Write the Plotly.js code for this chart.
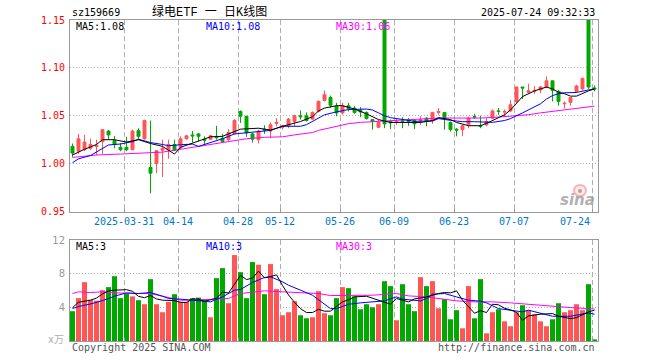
<!DOCTYPE html>
<html>
<head>
<meta charset="utf-8">
<script src="https://cdn.plot.ly/plotly-3.0.1.min.js"></script>
<style>html,body{margin:0;padding:0;background:#fff;}#chart{width:660px;height:360px;}</style>
</head>
<body>
<div id="chart"></div>
<script>
// Trading dates (index 0..87)
var dates = ["03-18","03-19","03-20","03-21","03-24","03-25","03-26","03-27","03-28","03-31",
"04-01","04-02","04-03","04-07","04-08","04-09","04-10","04-11","04-14","04-15",
"04-16","04-17","04-18","04-21","04-22","04-23","04-24","04-25","04-28","04-29",
"04-30","05-06","05-07","05-08","05-09","05-12","05-13","05-14","05-15","05-16",
"05-19","05-20","05-21","05-22","05-23","05-26","05-27","05-28","05-29","05-30",
"06-03","06-04","06-05","06-06","06-09","06-10","06-11","06-12","06-13","06-16",
"06-17","06-18","06-19","06-20","06-23","06-24","06-25","06-26","06-27","06-30",
"07-01","07-02","07-03","07-04","07-07","07-08","07-09","07-10","07-11","07-14",
"07-15","07-16","07-17","07-18","07-21","07-22","07-23","07-24"];

var openP = [1.018,1.013,1.0145,1.016,1.018,1.023,1.034,1.024,1.017,1.017,
1.0145,1.0345,1.026,0.996,1.000,1.014,1.0145,1.020,1.017,1.026,
1.030,1.031,1.0255,1.0255,1.0285,1.0265,1.025,1.031,1.0545,1.0495,
1.031,1.025,1.036,1.034,1.042,1.038,1.0395,1.044,1.050,1.050,
1.0465,1.0545,1.066,1.069,1.060,1.053,1.0605,1.058,1.0555,1.0535,
1.046,1.038,1.160,1.044,1.043,1.045,1.046,1.045,1.045,1.0475,
1.045,1.0535,1.0535,1.043,1.036,1.0355,1.0405,1.049,1.0395,1.0405,
1.0475,1.055,1.0538,1.055,1.065,1.080,1.0745,1.0755,1.077,1.080,
1.0865,1.0755,1.0625,1.064,1.0755,1.078,1.160,1.079];
var highP = [1.021,1.031,1.030,1.026,1.025,1.0355,1.035,1.029,1.0215,1.028,
1.0355,1.037,1.046,1.045,1.014,1.025,1.025,1.025,1.0285,1.030,
1.034,1.032,1.0285,1.030,1.0395,1.031,1.036,1.0465,1.0555,1.0495,
1.032,1.0355,1.040,1.043,1.0475,1.0405,1.0475,1.051,1.0555,1.0535,
1.0545,1.066,1.0765,1.071,1.0635,1.0635,1.0635,1.060,1.059,1.0545,
1.0465,1.046,1.160,1.046,1.0465,1.0485,1.0475,1.0465,1.0495,1.0485,
1.0535,1.058,1.0535,1.044,1.037,1.0405,1.049,1.052,1.050,1.0475,
1.0565,1.058,1.0565,1.0665,1.0805,1.080,1.0835,1.081,1.081,1.091,
1.0865,1.077,1.065,1.069,1.0825,1.090,1.160,1.0815];
var lowP = [1.007,1.010,1.013,1.0145,1.009,1.010,1.025,1.016,1.013,1.013,
1.014,1.025,1.025,0.969,0.990,0.986,1.005,1.013,1.015,1.025,
1.022,1.023,1.020,1.025,1.025,1.0215,1.024,1.031,1.0425,1.028,
1.022,1.021,1.031,1.0265,1.039,1.0355,1.037,1.039,1.046,1.044,
1.046,1.0535,1.065,1.058,1.0495,1.051,1.0545,1.052,1.0485,1.046,
1.0355,1.037,1.037,1.036,1.0405,1.037,1.0395,1.036,1.0405,1.039,
1.0415,1.051,1.0355,1.0335,1.0285,1.029,1.037,1.0465,1.037,1.039,
1.0465,1.051,1.049,1.0545,1.063,1.0675,1.0735,1.073,1.0735,1.079,
1.065,1.0605,1.0575,1.0605,1.0745,1.0765,1.078,1.0755];
var closeP = [1.011,1.026,1.0225,1.020,1.019,1.0355,1.030,1.020,1.0145,1.0145,
1.034,1.0285,1.045,0.990,1.0135,1.016,1.020,1.014,1.026,1.029,
1.029,1.0285,1.0245,1.029,1.027,1.023,1.0325,1.045,1.0495,1.032,
1.0255,1.034,1.035,1.0405,1.043,1.0395,1.0465,1.050,1.049,1.045,
1.0535,1.065,1.072,1.061,1.053,1.0605,1.0575,1.0535,1.054,1.047,
1.044,1.043,1.0415,1.0425,1.044,1.044,1.044,1.0415,1.046,1.044,
1.0535,1.0545,1.0477,1.0355,1.035,1.0395,1.0475,1.0485,1.039,1.044,
1.055,1.0545,1.0545,1.0615,1.080,1.079,1.076,1.0765,1.080,1.0865,
1.0765,1.065,1.063,1.069,1.081,1.089,1.080,1.078];

// Volume (x 10k)
var volume = [3.54,5.09,6.99,4.9,4.8,6.04,6.4,7.7,5.09,5.6,
5.3,4.85,4.37,7.35,4.37,3.42,4.65,5.56,4.65,4.65,
5.09,5.16,4.93,2.82,7.47,8.66,4.49,10.21,8.18,5.09,
9.38,9.06,5.56,9.14,6.16,3.06,3.42,4.73,3.06,2.70,
2.82,5.92,3.30,3.06,5.09,6.40,6.28,5.32,3.77,4.37,
4.01,4.37,7.11,6.52,2.46,6.75,4.37,3.54,7.59,6.52,
7.11,3.89,4.97,2.58,3.66,1.51,6.52,2.70,7.35,0.91,
3.42,3.77,2.34,1.75,3.42,4.25,3.66,3.18,2.34,1.75,
2.58,4.49,3.42,3.66,4.37,3.66,6.75,0.2];

// Price moving averages (index, value)
var ma5Idx = [0,2,4,5,7,9,11,13,15,17,18,20,23,25,27,28,31,33,35,37,38,40,41,42,44,45,47,49,51,53,58,60,61,63,64,66,68,69,70,71,72,73,74,75,77,79,80,81,82,83,84,85,86,87];
var ma5Val = [1.009,1.015,1.020,1.025,1.025,1.0225,1.025,1.021,1.018,1.010,1.017,1.0215,1.028,1.0285,1.034,1.036,1.037,1.035,1.039,1.042,1.044,1.049,1.055,1.058,1.0605,1.0605,1.057,1.052,1.046,1.043,1.043,1.045,1.048,1.046,1.043,1.0396,1.0396,1.042,1.045,1.0476,1.051,1.056,1.063,1.070,1.076,1.080,1.078,1.0745,1.073,1.0705,1.0705,1.0735,1.076,1.078];
var ma10Idx = [0,1,3,5,6,8,10,11,13,15,16,18,20,21,23,25,27,29,31,33,35,38,39,40,41,42,44,46,49,50,51,52,53,55,57,60,61,63,65,67,70,72,73,75,76,78,79,80,81,82,84,85,86,87];
var ma10Val = [1.001,1.005,1.0085,1.016,1.0195,1.0205,1.023,1.0255,1.022,1.020,1.0187,1.0197,1.0204,1.018,1.022,1.026,1.031,1.032,1.0335,1.0347,1.039,1.039,1.0407,1.044,1.048,1.051,1.054,1.0565,1.057,1.056,1.053,1.050,1.048,1.0462,1.0442,1.0445,1.047,1.0452,1.0438,1.0438,1.0431,1.045,1.047,1.053,1.056,1.0625,1.0675,1.071,1.073,1.074,1.0743,1.076,1.077,1.078];
var ma30Idx = [0,4,8,12,15,17,19,22,24,26,29,32,35,37,40,41,43,45,46,48,50,52,55,58,61,65,68,71,74,76,78,80,82,85,87];
var ma30Val = [1.0065,1.009,1.010,1.011,1.012,1.014,1.016,1.019,1.021,1.023,1.026,1.0275,1.028,1.030,1.0325,1.0347,1.0375,1.040,1.0417,1.0431,1.0438,1.045,1.046,1.0466,1.0476,1.0476,1.0476,1.0486,1.050,1.0511,1.053,1.0545,1.056,1.0585,1.060];

// Volume moving averages (index, value)
var vma5Idx = [0,1,3,4,5,6,7,9,10,11,12,13,14,15,17,18,19,20,21,22,23,24,25,26,27,28,29,30,31,32,33,34,35,36,37,38,39,40,41,42,43,44,45,46,47,49,51,53,54,56,57,59,61,62,63,64,65,66,67,68,69,70,71,72,73,74,75,76,78,80,81,83,84,86,87];
var vma5Val = [3.97,4.6,4.85,5.1,5.6,5.95,6.04,6.1,5.9,5.3,5.15,5.4,5.0,4.85,4.8,4.6,4.57,5.0,4.97,4.7,4.9,5.1,5.8,5.7,6.75,7.8,7.3,7.47,8.3,7.5,7.65,7.86,6.6,5.47,4.6,3.85,3.38,3.38,3.77,3.54,3.55,4.1,4.65,4.9,5.24,5.32,4.85,4.37,5.05,4.65,5.0,5.24,5.64,5.76,5.72,5.96,4.85,4.1,3.3,3.6,3.38,4.37,4.3,3.9,3.7,3.4,2.46,2.98,3.18,3.26,2.94,2.66,2.78,3.46,3.66];
var vma10Idx = [0,1,3,5,7,9,11,13,15,16,18,20,22,23,25,27,28,29,30,32,33,35,36,38,40,41,42,43,44,46,48,50,52,54,55,58,59,60,62,64,66,68,69,71,73,75,76,78,80,83,85,86,87];
var vma10Val = [3.85,4.1,4.4,4.8,5.32,5.72,5.64,5.76,5.32,5.05,4.97,4.85,4.77,4.65,5.24,6.04,6.12,6.52,6.95,7.55,7.63,7.03,6.63,6.04,5.44,4.9,4.4,3.85,3.85,4.37,4.53,4.65,4.77,5.24,4.97,4.77,5.05,5.56,5.64,5.24,4.85,4.73,4.53,3.85,3.66,3.46,3.66,3.34,2.94,2.94,3.26,3.34,3.18];
var vma30Idx = [0,1,3,5,6,10,13,16,18,20,22,26,28,30,32,35,38,41,43,47,50,54,56,59,61,64,67,70,73,76,79,83,86,87];
var vma30Val = [5.64,5.84,5.76,5.84,5.76,5.64,5.64,5.13,4.85,4.85,4.93,5.05,5.64,5.84,5.96,5.84,5.72,5.64,5.4,5.44,5.44,5.64,5.36,5.24,5.05,4.77,4.65,4.65,4.53,4.37,4.13,3.97,3.85,3.8];

// Labelled x ticks
var tickIdx = [9,18,28,35,45,54,64,74,87];
var tickText = ["2025-03-31","04-14","04-28","05-12","05-26","06-09","06-23","07-07","07-24"];
var priceTicks = [0.95,1.00,1.05,1.10,1.15];
var volTicks = [4,8,12];

var RED = '#ff5555', GREEN = '#00a800';
var xIdx = dates.map(function(d,i){return i;});
var volColors = closeP.map(function(c,i){return c >= openP[i] ? RED : GREEN;});
var gridPos = tickIdx.map(function(i){return i - 0.37;});
var MONO = 'DejaVu Sans Mono, Liberation Mono, monospace';

var traces = [
  {type:'candlestick', x:xIdx, open:openP, high:highP, low:lowP, close:closeP,
   xaxis:'x', yaxis:'y', text:dates, hoverinfo:'none',
   increasing:{line:{color:RED,width:1}, fillcolor:RED},
   decreasing:{line:{color:GREEN,width:1}, fillcolor:GREEN}, whiskerwidth:0},
  {type:'scatter', mode:'lines', x:ma30Idx, y:ma30Val, xaxis:'x', yaxis:'y', line:{color:'#ff00ff',width:1}, hoverinfo:'none'},
  {type:'scatter', mode:'lines', x:ma10Idx, y:ma10Val, xaxis:'x', yaxis:'y', line:{color:'#0000ff',width:1}, hoverinfo:'none'},
  {type:'scatter', mode:'lines', x:ma5Idx, y:ma5Val, xaxis:'x', yaxis:'y', line:{color:'#000000',width:1}, hoverinfo:'none'},
  {type:'bar', x:xIdx, y:volume, xaxis:'x2', yaxis:'y2', marker:{color:volColors, line:{width:0}}, hoverinfo:'none'},
  {type:'scatter', mode:'lines', x:vma30Idx, y:vma30Val, xaxis:'x2', yaxis:'y2', line:{color:'#ff00ff',width:1}, hoverinfo:'none'},
  {type:'scatter', mode:'lines', x:vma10Idx, y:vma10Val, xaxis:'x2', yaxis:'y2', line:{color:'#0000ff',width:1}, hoverinfo:'none'},
  {type:'scatter', mode:'lines', x:vma5Idx, y:vma5Val, xaxis:'x2', yaxis:'y2', line:{color:'#000000',width:1}, hoverinfo:'none'}
];

function xAxisBase(anchor){
  return {anchor:anchor, domain:[0,1], range:[-0.4167,87.5833], tickmode:'array', tickvals:gridPos,
    showticklabels:false, ticks:'inside', ticklen:3, tickcolor:'#999', tickwidth:1,
    showgrid:true, gridcolor:'#b0b0b0', gridwidth:1, griddash:'5px,3px',
    showline:true, linecolor:'#999', linewidth:1, mirror:true, zeroline:false,
    rangeslider:{visible:false}, fixedrange:true};
}

var PX = function(px){return (px-70)/528;};
var PY = function(py){return (341-py)/321;};

var annotations = [
  {text:'sz159669', xref:'paper', yref:'paper', x:PX(70), y:PY(12.5), xanchor:'left', yanchor:'middle', showarrow:false, font:{family:MONO, size:10, color:'#000'}},
  {text:'绿电ETF 一 日K线图', xref:'paper', yref:'paper', x:PX(209), y:PY(12.5), xanchor:'center', yanchor:'middle', showarrow:false, font:{family:'Liberation Mono, Noto Sans CJK SC', size:12, color:'#000'}},
  {text:'2025-07-24 09:32:33', xref:'paper', yref:'paper', x:PX(597), y:PY(12.5), xanchor:'right', yanchor:'middle', showarrow:false, font:{family:MONO, size:10, color:'#000'}},
  {text:'MA5:1.08', xref:'paper', yref:'paper', x:PX(74), y:PY(26.5), xanchor:'left', yanchor:'middle', showarrow:false, font:{family:MONO, size:10, color:'#000'}},
  {text:'MA10:1.08', xref:'paper', yref:'paper', x:PX(204), y:PY(26.5), xanchor:'left', yanchor:'middle', showarrow:false, font:{family:MONO, size:10, color:'#0000ff'}},
  {text:'MA30:1.06', xref:'paper', yref:'paper', x:PX(334), y:PY(26.5), xanchor:'left', yanchor:'middle', showarrow:false, font:{family:MONO, size:10, color:'#ff00ff'}},
  {text:'MA5:3', xref:'paper', yref:'paper', x:PX(74), y:PY(246.5), xanchor:'left', yanchor:'middle', showarrow:false, font:{family:MONO, size:10, color:'#000'}},
  {text:'MA10:3', xref:'paper', yref:'paper', x:PX(204), y:PY(246.5), xanchor:'left', yanchor:'middle', showarrow:false, font:{family:MONO, size:10, color:'#0000ff'}},
  {text:'MA30:3', xref:'paper', yref:'paper', x:PX(334), y:PY(246.5), xanchor:'left', yanchor:'middle', showarrow:false, font:{family:MONO, size:10, color:'#ff00ff'}},
  {text:'x万', xref:'paper', yref:'paper', x:PX(66), y:PY(339), xanchor:'right', yanchor:'middle', showarrow:false, font:{family:'DejaVu Sans, Noto Sans CJK SC', size:10, color:'#b0b0b0'}},
  {text:'Copyright 2025 SINA.COM', xref:'paper', yref:'paper', x:PX(70), y:PY(347), xanchor:'left', yanchor:'middle', showarrow:false, font:{family:MONO, size:10, color:'#555'}},
  {text:'http://finance.sina.com.cn', xref:'paper', yref:'paper', x:PX(597), y:PY(347), xanchor:'right', yanchor:'middle', showarrow:false, font:{family:MONO, size:10, color:'#555'}},
  {text:'<i><b>sina</b></i>', xref:'paper', yref:'paper', x:PX(597), y:PY(200), xanchor:'right', yanchor:'middle', showarrow:false, font:{family:'DejaVu Sans', size:15, color:'rgba(150,150,150,0.75)'}}
];
tickIdx.forEach(function(ti, k){
  var last = (k === tickIdx.length-1);
  annotations.push({text:tickText[k], xref:'x', yref:'paper', x:ti-0.37, y:PY(221), xanchor: last ? 'right' : 'center', yanchor:'middle', showarrow:false, font:{family:MONO, size:10, color:'#0077cc'}});
});

var shapes = [
  {type:'circle', xref:'paper', yref:'paper', x0:PX(574), x1:PX(586), y0:PY(196), y1:PY(185), line:{color:'rgba(240,120,120,0.5)', width:2}, fillcolor:'rgba(255,200,200,0.4)', layer:'above'},
  {type:'circle', xref:'paper', yref:'paper', x0:PX(578), x1:PX(582), y0:PY(193), y1:PY(189), line:{width:0}, fillcolor:'rgba(120,120,120,0.6)', layer:'above'}
];

var layout = {
  width:660, height:360,
  margin:{l:70, r:62, t:20, b:19, pad:0},
  paper_bgcolor:'#fff', plot_bgcolor:'#fff',
  showlegend:false, hovermode:false, dragmode:false,
  boxgap:0.3, bargap:0.17,
  xaxis: xAxisBase('y'),
  xaxis2: xAxisBase('y2'),
  yaxis: {domain:[PY(211.5),1], range:[0.95,1.15], tickmode:'array', tickvals:priceTicks, tickformat:'.2f',
    tickfont:{family:MONO, size:10, color:'#ff0000'}, ticks:'', ticklabelstandoff:2,
    showgrid:true, gridcolor:'#b0b0b0', gridwidth:1, griddash:'1px,2px',
    showline:true, linecolor:'#999', linewidth:1, mirror:true, zeroline:false, fixedrange:true},
  yaxis2: {domain:[0,PY(240)], range:[0,12], tickmode:'array', tickvals:volTicks,
    tickfont:{family:'DejaVu Sans', size:10, color:'#999'}, ticks:'', ticklabelstandoff:2,
    showgrid:true, gridcolor:'#b0b0b0', gridwidth:1, griddash:'1px,2px',
    showline:true, linecolor:'#999', linewidth:1, mirror:true, zeroline:false, fixedrange:true},
  annotations:annotations,
  shapes:shapes
};

Plotly.newPlot('chart', traces, layout, {staticPlot:true, displayModeBar:false});
</script>
</body>
</html>
